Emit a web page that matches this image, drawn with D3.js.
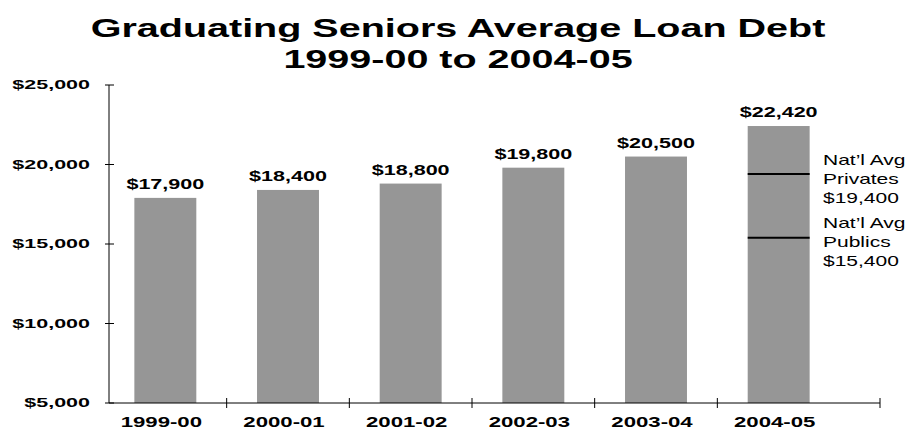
<!DOCTYPE html>
<html>
<head>
<meta charset="utf-8">
<script src="https://cdn.jsdelivr.net/npm/d3@7"></script>
<style>
  html, body { margin: 0; padding: 0; background: #fff; }
  svg { display: block; font-family: "Liberation Sans", Arial, sans-serif; }
</style>
</head>
<body>
<svg id="chart" width="909" height="429"></svg>
<script>
// Average loan debt of graduating seniors, by academic year
const categories = ["1999-00", "2000-01", "2001-02", "2002-03", "2003-04", "2004-05"];
const debt = [17900, 18400, 18800, 19800, 20500, 22420];
const yTicks = [5000, 10000, 15000, 20000, 25000];
const titleLines = ["Graduating Seniors Average Loan Debt", "1999-00 to 2004-05"];
// National averages drawn across the latest year's bar
const avgGroups = ["Privates", "Publics"];
const avgValues = [19400, 15400];

const svg = d3.select("#chart");
const money = d3.format("$,");

const axisX = 109, axisBottom = 403, axisTop = 85, axisRight = 880;

const x = d3.scaleBand()
  .domain(categories)
  .range([104, 840])
  .paddingInner(0.495)
  .paddingOuter(0.2475);

const y = d3.scaleLinear()
  .domain([5000, 25000])
  .range([axisBottom, axisTop]);

// text helper: places text and applies a horizontal stretch
function stretchedText(g, tx, ty, str, opts) {
  return g.append("text")
    .attr("transform", `translate(${tx},${ty}) scale(${opts.sx},1)`)
    .attr("text-anchor", opts.anchor || "middle")
    .attr("font-size", opts.size)
    .attr("font-weight", opts.weight || "bold")
    .attr("fill", "#000")
    .text(str);
}

// Title
const titleG = svg.append("g");
titleLines.forEach((t, i) => {
  stretchedText(titleG, 458, [37, 68][i], t, { size: 26, sx: 1.52 });
});

// Bars
svg.append("g").selectAll("rect")
  .data(debt)
  .join("rect")
  .attr("x", (d, i) => x(categories[i]))
  .attr("y", d => y(d))
  .attr("width", x.bandwidth())
  .attr("height", d => y(5000) - y(d))
  .attr("fill", "#969696");

// Value labels
const valG = svg.append("g");
debt.forEach((d, i) => {
  stretchedText(valG, x(categories[i]) + x.bandwidth() / 2, y(d) - 9, money(d), { size: 14, sx: 1.54 });
});

// Y axis
const yG = svg.append("g");
yG.append("line")
  .attr("x1", axisX).attr("x2", axisX)
  .attr("y1", y(25000)).attr("y2", y(5000))
  .attr("stroke", "#000").attr("stroke-width", 1);
yTicks.forEach(t => {
  yG.append("line")
    .attr("x1", axisX - 4).attr("x2", axisX + 5)
    .attr("y1", y(t)).attr("y2", y(t))
    .attr("stroke", "#000").attr("stroke-width", 1);
  stretchedText(yG, 90, y(t) + 4, money(t), { size: 12.5, sx: 1.72, anchor: "end" });
});

// X axis
const xG = svg.append("g");
xG.append("line")
  .attr("x1", axisX).attr("x2", axisRight)
  .attr("y1", axisBottom).attr("y2", axisBottom)
  .attr("stroke", "#000").attr("stroke-width", 1);
const tickXs = categories.slice(1).map(c => x(c) - x.step() * x.paddingInner() / 2);
tickXs.push(axisRight);
tickXs.forEach(tx => {
  xG.append("line")
    .attr("x1", tx).attr("x2", tx)
    .attr("y1", axisBottom - 5).attr("y2", axisBottom + 5)
    .attr("stroke", "#000").attr("stroke-width", 1);
});
categories.forEach(c => {
  stretchedText(xG, x(c) + x.bandwidth() / 2 - 4, 427, c, { size: 14.5, sx: 1.53 });
});

// National average markers across the last bar
const last = categories[categories.length - 1];
const avgG = svg.append("g");
avgValues.forEach((v, i) => {
  avgG.append("line")
    .attr("x1", x(last)).attr("x2", x(last) + x.bandwidth())
    .attr("y1", y(v)).attr("y2", y(v))
    .attr("stroke", "#000").attr("stroke-width", 2);
  const lines = ["Nat\u2019l Avg", avgGroups[i], money(v)];
  lines.forEach((t, k) => {
    stretchedText(avgG, 823, y(v) - 9.5 + k * 19, t, { size: 14, sx: 1.5, anchor: "start", weight: "normal" });
  });
});
</script>
</body>
</html>
